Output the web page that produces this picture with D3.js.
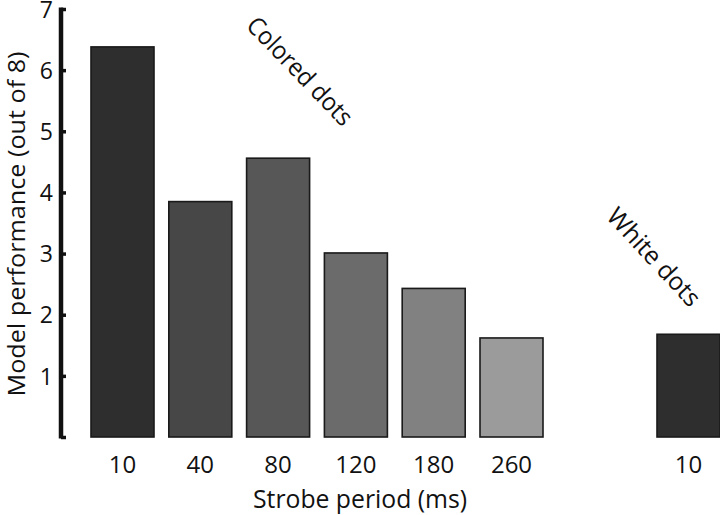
<!DOCTYPE html>
<html>
<head>
<meta charset="utf-8">
<script src="https://cdn.jsdelivr.net/npm/d3@7"></script>
<style>
  html, body { margin: 0; padding: 0; background: #fff; }
  svg { display: block; }
  text { font-family: "Open Sans", "Noto Sans", sans-serif; fill: #111; }
</style>
</head>
<body>
<svg id="chart" width="720" height="515"></svg>
<script>
// ---- data ----
const coloredPeriods = ["10", "40", "80", "120", "180", "260"];
const coloredValues  = [6.38, 3.85, 4.56, 3.01, 2.43, 1.62];
const coloredFills   = ["#2e2e2e", "#474747", "#575757", "#6b6b6b", "#818181", "#9b9b9b"];
const whitePeriods   = ["10"];
const whiteValues    = [1.68];
const whiteFills     = ["#2e2e2e"];
const yTicks         = [0, 1, 2, 3, 4, 5, 6, 7];
const yTickLabels    = ["", "1", "2", "3", "4", "5", "6", "7"];
const groupLabels    = ["Colored dots", "White dots"];
const xTitle = "Strobe period (ms)";
const yTitle = "Model performance (out of 8)";

// ---- layout ----
const svg = d3.select("#chart");
const GAP_SLOTS = 1.275; // extra empty space before the white-dots group

const bars = coloredValues.map((v, i) => ({ label: coloredPeriods[i], value: v, fill: coloredFills[i], slot: i }))
  .concat(whiteValues.map((v, i) => ({ label: whitePeriods[i], value: v, fill: whiteFills[i],
                                        slot: coloredValues.length + GAP_SLOTS + i })));

const y = d3.scaleLinear().domain([0, 7]).range([437, 9]);
const x = d3.scaleLinear().domain([0, 1]).range([122.5, 200.3]);
const barW = 63;

// bars
svg.append("g").selectAll("rect").data(bars).join("rect")
  .attr("x", d => x(d.slot) - barW / 2)
  .attr("y", d => y(d.value))
  .attr("width", barW)
  .attr("height", d => y(0) - y(d.value))
  .attr("fill", d => d.fill)
  .attr("stroke", "#1a1a1a")
  .attr("stroke-width", 1.6);

// y axis
const axisX = 61;
const yAxis = d3.axisRight(y).tickValues(yTicks).tickSize(5).tickFormat("");
const gY = svg.append("g").attr("transform", `translate(${axisX},0)`).call(yAxis);
gY.select(".domain").remove();
gY.selectAll(".tick line").attr("stroke", "#111").attr("stroke-width", 3.5);
gY.append("line")
  .attr("x1", 0).attr("x2", 0)
  .attr("y1", y(7) - 1.5).attr("y2", y(0) + 1.5)
  .attr("stroke", "#111").attr("stroke-width", 4.5);

// y tick labels
svg.append("g").selectAll("text").data(yTicks).join("text")
  .attr("x", 53)
  .attr("y", d => y(d))
  .attr("dy", "0.38em")
  .attr("text-anchor", "end")
  .attr("font-size", 23)
  .text((d, i) => yTickLabels[i]);

// x tick labels
svg.append("g").selectAll("text").data(bars).join("text")
  .attr("x", d => x(d.slot))
  .attr("y", 473)
  .attr("text-anchor", "middle")
  .attr("font-size", 24)
  .text(d => d.label);

// axis titles
svg.append("text")
  .attr("x", 360).attr("y", 508)
  .attr("text-anchor", "middle")
  .attr("font-size", 25)
  .attr("textLength", 214).attr("lengthAdjust", "spacingAndGlyphs")
  .text(xTitle);

svg.append("text")
  .attr("transform", "translate(25,224) rotate(-90)")
  .attr("text-anchor", "middle")
  .attr("font-size", 23)
  .attr("textLength", 345).attr("lengthAdjust", "spacingAndGlyphs")
  .text(yTitle);

// group annotations (rotated)
svg.append("text")
  .attr("transform", "translate(300,71) rotate(46)")
  .attr("text-anchor", "middle")
  .attr("dy", "0.35em")
  .attr("font-size", 25)
  .attr("textLength", 140).attr("lengthAdjust", "spacingAndGlyphs")
  .text(groupLabels[0]);

svg.append("text")
  .attr("transform", "translate(654,257) rotate(47)")
  .attr("text-anchor", "middle")
  .attr("dy", "0.35em")
  .attr("font-size", 25)
  .attr("textLength", 124).attr("lengthAdjust", "spacingAndGlyphs")
  .text(groupLabels[1]);
</script>
</body>
</html>
